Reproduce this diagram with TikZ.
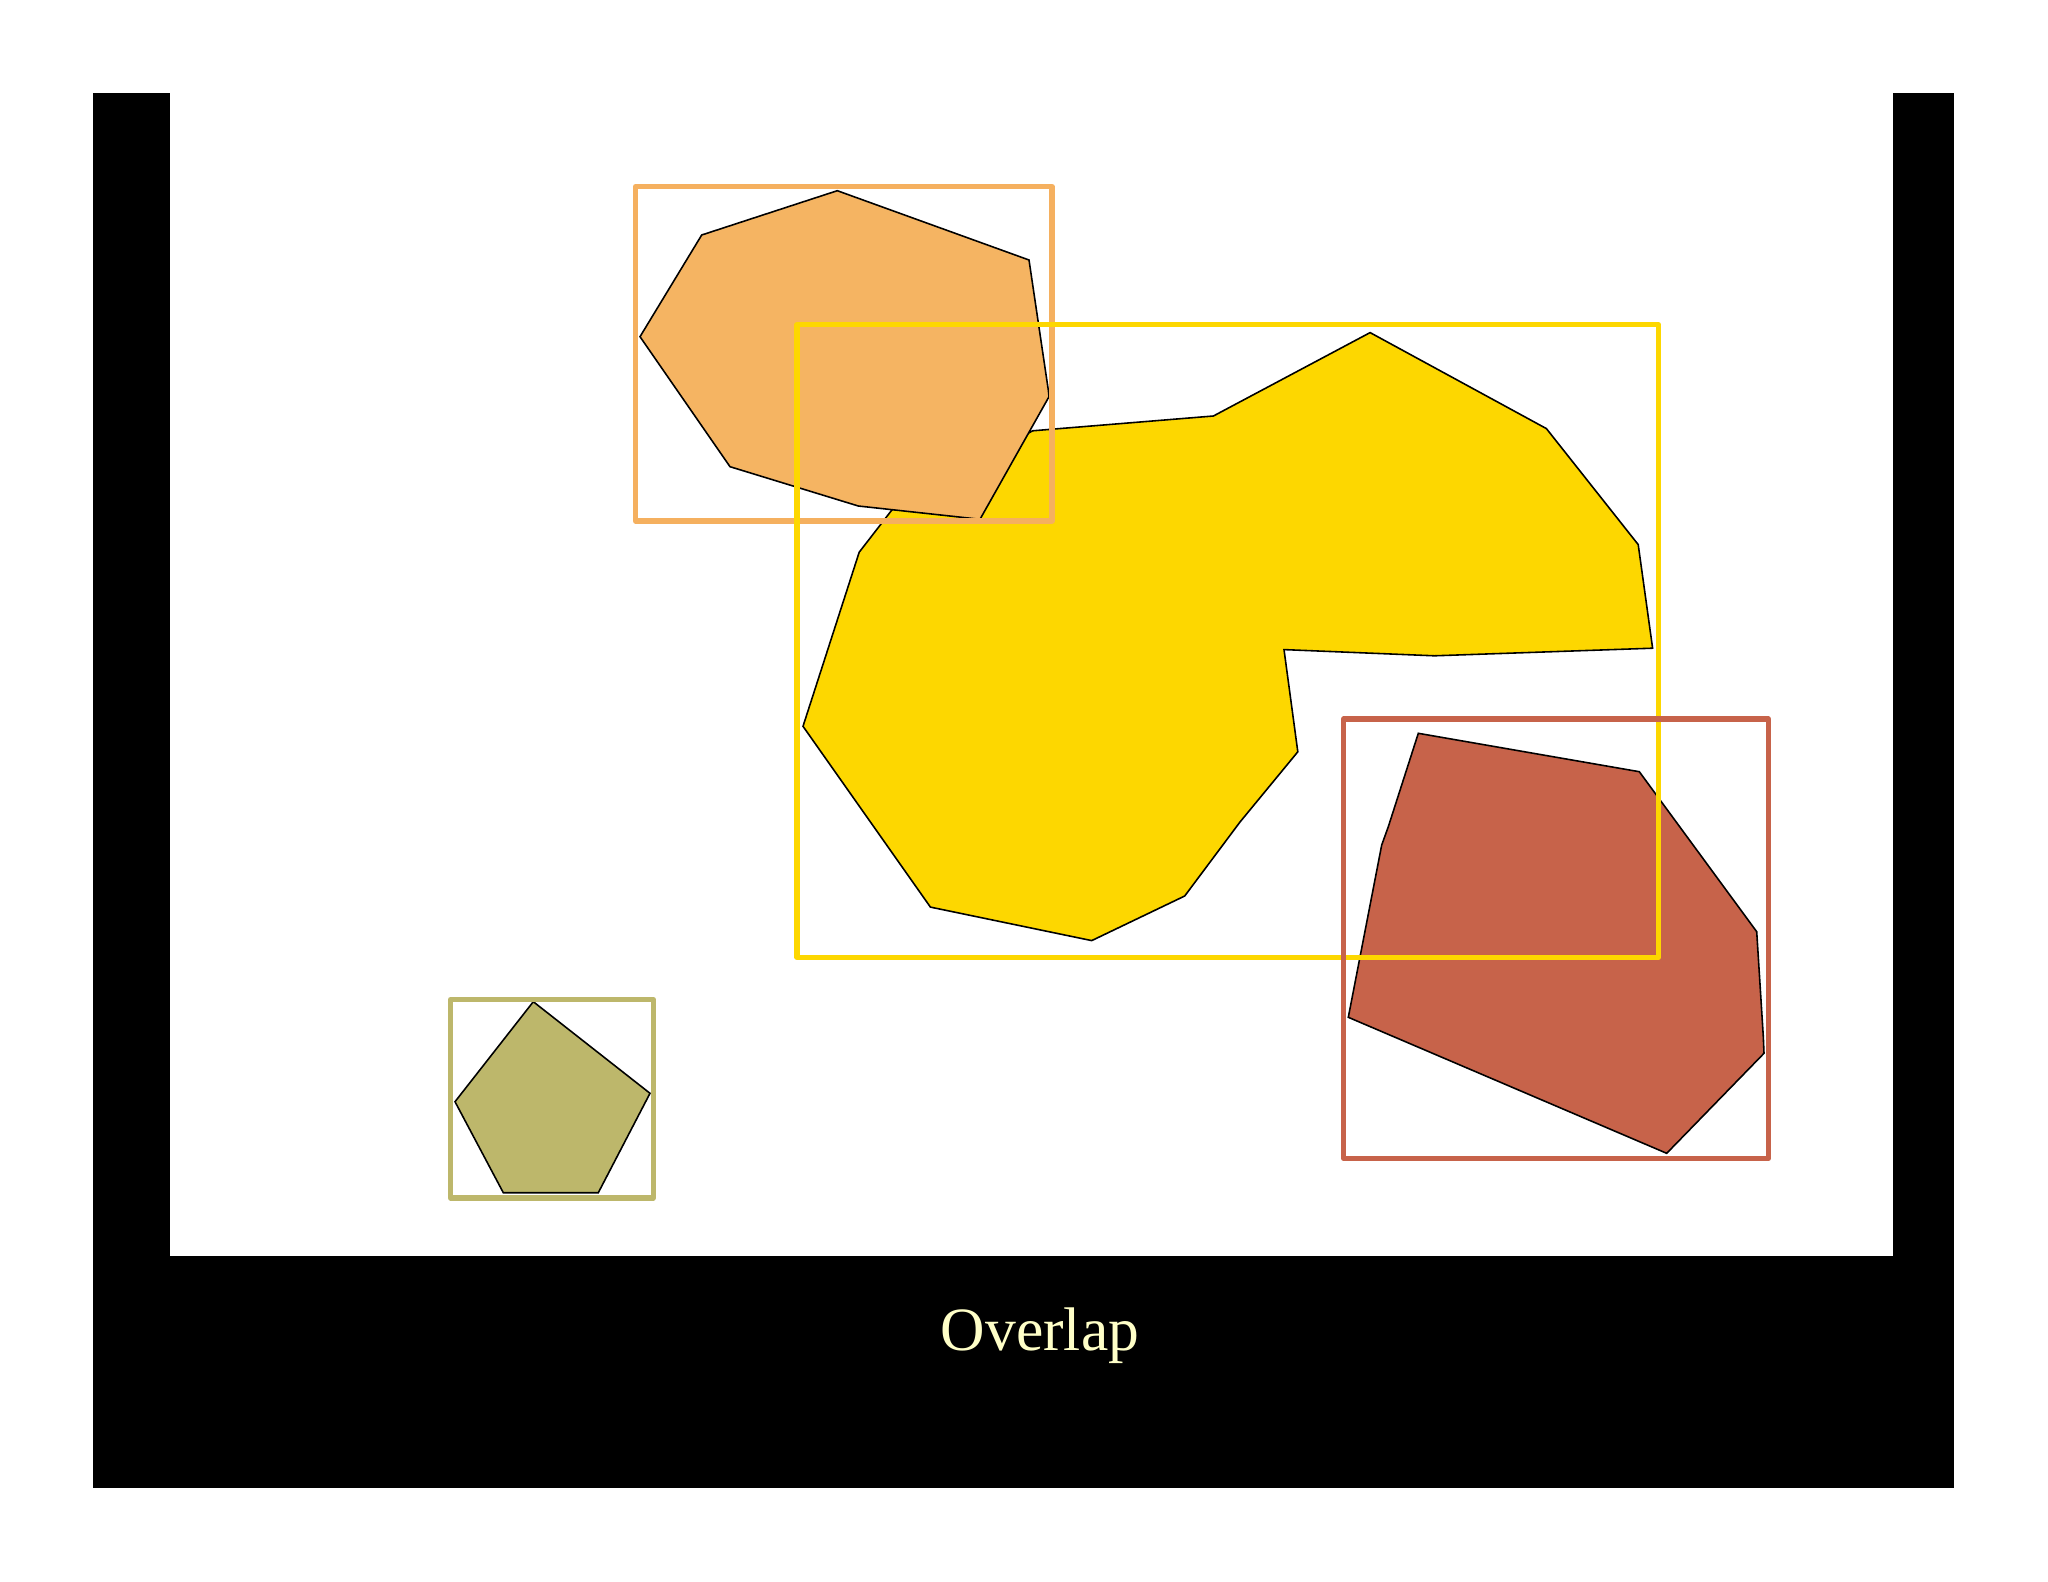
\documentclass[tikz,border=0pt]{standalone}
\usepackage{fontspec}
\setmainfont{Liberation Serif}
\definecolor{orangeF}{RGB}{245,180,98}
\definecolor{orangeB}{RGB}{245,176,95}
\definecolor{goldF}{RGB}{253,215,0}
\definecolor{brownF}{RGB}{199,99,74}
\definecolor{oliveF}{RGB}{189,183,107}
\definecolor{cream}{RGB}{255,255,200}
\tikzset{
  polyshape/.style={draw=black, line width=0.45pt, line join=miter},
  bbox/.style={line width=1.45pt, line join=round},
}
\begin{document}
\begin{tikzpicture}[x=0.01cm,y=-0.01cm]
\useasboundingbox (0,0) rectangle (2048,1582);
\fill[white] (0,0) rectangle (2048,1582);
% frame
\fill[black] (92.7,92.7) rectangle (1954,1487.6);
\fill[white] (169.8,92.7) rectangle (1892.5,1256.4);
% yellow polygon
\filldraw[polyshape, fill=goldF] (1370.1,332.6) -- (1546.4,428.6) -- (1638.2,544.6) -- (1652.6,648.2)
  -- (1434.4,655.8) -- (1284,649.6) -- (1297.8,751.8) -- (1240,822) -- (1184.7,896)
  -- (1091.7,940.6) -- (930.4,907.1) -- (803,726.3) -- (859.2,552.2) -- (892,509.8)
  -- (1032.6,430.8) -- (1213.4,416) -- cycle;
% orange polygon
\filldraw[polyshape, fill=orangeF] (837.3,190.7) -- (1029,260) -- (1048.3,390) -- (1049,396.7)
  -- (980,519.3) -- (858.3,506) -- (730,466.7) -- (640,336.7) -- (701.7,235) -- cycle;
% brown polygon
\filldraw[polyshape, fill=brownF] (1418.3,733.3) -- (1639.3,771.7) -- (1756.7,931.7) -- (1763.3,1036.7)
  -- (1764,1053.3) -- (1666.7,1153.3) -- (1348.3,1017.3) -- (1381.7,845) -- (1388.3,826.7) -- cycle;
% olive pentagon
\filldraw[polyshape, fill=oliveF] (533.3,1001.7) -- (650,1093.3) -- (598.3,1192.7) -- (503.3,1192.7)
  -- (455,1101.7) -- cycle;
% bounding boxes
\draw[bbox, draw=orangeB] (635.5,186.5) rectangle (1052,521);
\draw[bbox, draw=goldF] (797,324.5) rectangle (1658.3,957.3);
\draw[bbox, draw=brownF] (1343.6,719) rectangle (1768.3,1158.5);
\draw[bbox, draw=oliveF] (450.6,999.5) rectangle (653.2,1198);
% label
\node[anchor=base, text=cream, font=\fontsize{17.5pt}{20pt}\selectfont, inner sep=0pt] (lbl) at (1040,1350) {Overlap};
\end{tikzpicture}
\end{document}
